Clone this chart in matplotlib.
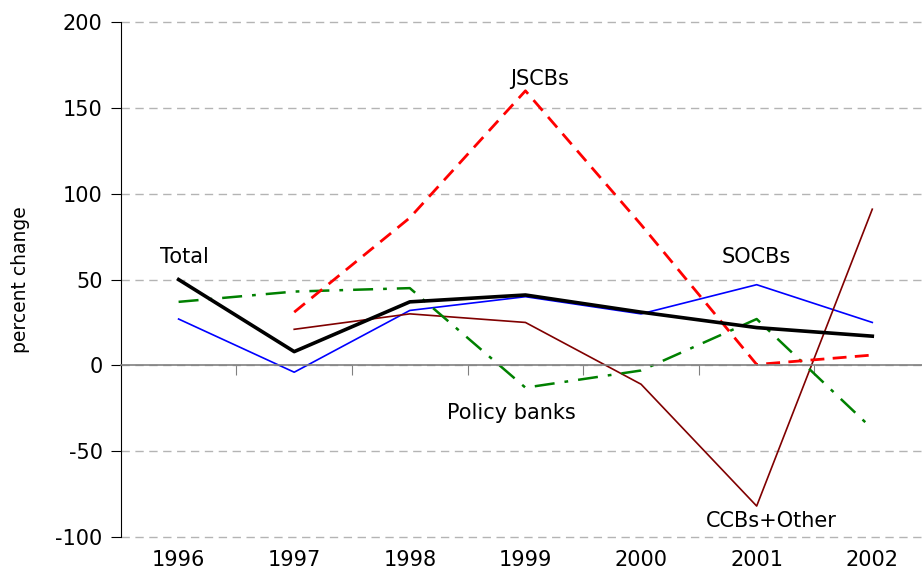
import matplotlib.pyplot as plt
from matplotlib.transforms import blended_transform_factory

years = ['1996', '1997', '1998', '1999', '2000', '2001', '2002']
x = list(range(len(years)))

total = [50, 8, 37, 41, 31, 22, 17]
socbs = [27, -4, 32, 40, 30, 47, 25]
jscbs = [None, 31, 86, 160, 82, 0.5, 6]
policy = [37, 43, 45, -13, -3, 27, -37]
ccbs = [None, 21, 30, 25, -11, -82, 91]

def pts(vals):
    xs = [i for i, v in zip(x, vals) if v is not None]
    ys = [v for v in vals if v is not None]
    return xs, ys

fig = plt.figure(figsize=(9.22, 5.83), dpi=100)
ax = fig.add_axes([0.131, 0.079, 0.869, 0.883])

ax.plot(*pts(socbs), color='#0000ff', lw=1.2)
ax.plot(*pts(ccbs), color='#800000', lw=1.2)
ax.plot(*pts(policy), color='#008000', lw=1.8, linestyle=(0, (8, 4, 1.5, 4)))
ax.plot(*pts(jscbs), color='#ff0000', lw=2.0, linestyle=(0, (5, 3)))
ax.plot(*pts(total), color='black', lw=2.6)

ax.set_xlim(-0.5, 6.43)
ax.set_ylim(-100, 200)
ax.set_yticks([-100, -50, 0, 50, 100, 150, 200])
ax.set_yticklabels(['-100', '-50', '0', '50', '100', '150', '200'])
ax.yaxis.grid(True, color='#b4b4b4', linestyle=(0, (6, 4)), lw=1)
for gl in ax.get_ygridlines():
    gl.set_clip_on(False)
ax.set_axisbelow(True)

ax.spines['top'].set_visible(False)
ax.spines['right'].set_visible(False)
ax.spines['bottom'].set_position(('data', 0))
ax.spines['bottom'].set_color('#808080')
ax.spines['bottom'].set_linewidth(1.2)
ax.spines['bottom'].set_zorder(3)
ax.set_xticks([i + 0.5 for i in x[:-1]])
ax.set_xticklabels([])
ax.tick_params(axis='x', length=7, color='#808080', direction='out')
ax.tick_params(axis='y', length=7, labelsize=15, pad=6)

trans = blended_transform_factory(ax.transData, ax.transAxes)
for i, yr in zip(x, years):
    ax.text(i, -0.025, yr, transform=trans, ha='center', va='top', fontsize=15)

ax.set_ylabel('percent change', fontsize=13.5, labelpad=18)

ax.text(0.05, 63, 'Total', fontsize=15, ha='center', va='center')
ax.text(3.12, 167, 'JSCBs', fontsize=15, ha='center', va='center')
ax.text(5.0, 63, 'SOCBs', fontsize=15, ha='center', va='center')
ax.text(2.88, -28, 'Policy banks', fontsize=15, ha='center', va='center')
ax.text(5.13, -91, 'CCBs+Other', fontsize=15, ha='center', va='center')

plt.savefig('out.png')
